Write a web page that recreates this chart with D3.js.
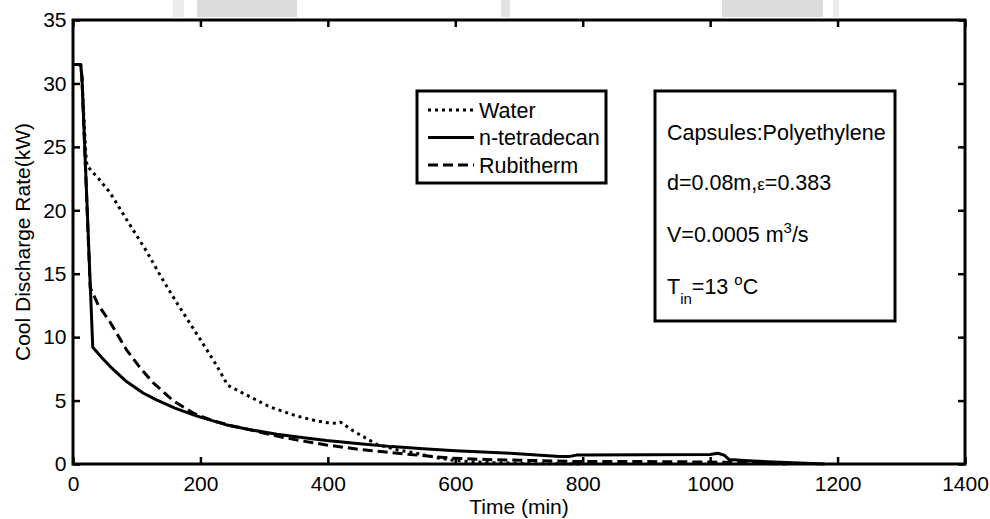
<!DOCTYPE html>
<html>
<head>
<meta charset="utf-8">
<script src="https://cdn.jsdelivr.net/npm/d3@7"></script>
<style>
  body { margin: 0; background: #fff; }
  text { font-family: "Liberation Sans", Arial, sans-serif; fill: #000; }
</style>
</head>
<body>
<script>
// discharge curves (time in min, rate in kW)
var waterT = [0, 12, 14, 20, 22, 40, 58, 85, 115, 140, 163, 200, 225, 243, 270, 309, 350, 382, 400, 414, 420, 440, 477, 510, 539, 570, 592, 620, 660, 720, 800];
var waterV = [31.5, 31.5, 30.5, 24.5, 23.5, 22.5, 21.4, 19.2, 16.8, 14.6, 12.7, 9.8, 7.8, 6.2, 5.5, 4.5, 3.8, 3.4, 3.25, 3.2, 3.3, 2.6, 1.55, 1.1, 0.85, 0.5, 0.32, 0.2, 0.1, 0.03, 0];

var tetraT = [0, 12, 14, 31, 45, 58, 84, 110, 131, 160, 189, 200, 240, 278, 320, 356, 398, 450, 500, 550, 600, 686, 764, 780, 790, 900, 1000, 1012, 1022, 1030, 1060, 1100, 1150, 1180];
var tetraV = [31.5, 31.5, 30.5, 9.2, 8.4, 7.7, 6.5, 5.6, 5.05, 4.4, 3.87, 3.7, 3.1, 2.7, 2.35, 2.1, 1.85, 1.6, 1.37, 1.2, 1.05, 0.85, 0.6, 0.6, 0.7, 0.72, 0.75, 0.85, 0.7, 0.35, 0.25, 0.15, 0.05, 0];

var rubiT = [0, 12, 14, 27, 40, 58, 84, 105, 126, 157, 189, 220, 250, 278, 320, 356, 398, 450, 487, 540, 592, 650, 700, 785, 850, 950, 1050, 1100, 1120];
var rubiV = [31.5, 31.5, 30.5, 13.9, 12.5, 11.2, 9.0, 7.6, 6.4, 5.0, 4.0, 3.4, 3.0, 2.7, 2.2, 1.85, 1.5, 1.15, 0.97, 0.7, 0.47, 0.35, 0.3, 0.2, 0.2, 0.18, 0.12, 0.02, 0];

var seriesNames = ["Water", "n-tetradecan", "Rubitherm"];
var xTicks = [0, 200, 400, 600, 800, 1000, 1200, 1400];
var yTicks = [0, 5, 10, 15, 20, 25, 30, 35];

var width = 990, height = 519;
var margin = {top: 20, right: 25, bottom: 55, left: 73};

var series = [
  {name: seriesNames[0], dash: "3,4", values: waterT.map((t, i) => [t, waterV[i]])},
  {name: seriesNames[1], dash: null, values: tetraT.map((t, i) => [t, tetraV[i]])},
  {name: seriesNames[2], dash: "10,5", values: rubiT.map((t, i) => [t, rubiV[i]])}
];

var svg = d3.select("body").append("svg")
    .attr("width", width)
    .attr("height", height);

// grey watermark blocks along the top edge of the scanned page
var grey = [[173, 11, "#ececec"], [197, 100, "#dcdcdc"], [501, 9, "#e2e2e2"], [722, 101, "#dcdcdc"], [833, 6, "#ececec"]];
svg.append("g").selectAll("rect")
  .data(grey)
  .join("rect")
    .attr("x", d => d[0])
    .attr("y", 0)
    .attr("width", d => d[1])
    .attr("height", 17)
    .attr("fill", d => d[2]);

var x = d3.scaleLinear()
    .domain([0, 1400])
    .range([margin.left, width - margin.right]);

var y = d3.scaleLinear()
    .domain([0, 35])
    .range([height - margin.bottom, margin.top]);

var line = d3.line()
    .x(d => x(d[0]))
    .y(d => y(d[1]));

svg.append("g")
  .selectAll("path")
  .data(series)
  .join("path")
    .attr("d", d => line(d.values))
    .attr("fill", "none")
    .attr("stroke", "#000")
    .attr("stroke-width", 3)
    .attr("stroke-linejoin", "round")
    .attr("stroke-dasharray", d => d.dash);

function styleAxis(g) {
  g.select(".domain").remove();
  g.selectAll(".tick line").attr("stroke-width", 2.5);
  g.selectAll("text").style("font-size", "21px")
    .style("font-family", "'Liberation Sans', Arial, sans-serif");
}

svg.append("g")
    .attr("transform", `translate(0,${y(0)})`)
    .call(d3.axisBottom(x).tickValues(xTicks).tickFormat(d3.format("d"))
      .tickSizeInner(-7).tickSizeOuter(0).tickPadding(12))
    .call(styleAxis);

svg.append("g")
    .attr("transform", `translate(0,${y(35)})`)
    .call(d3.axisTop(x).tickValues(xTicks).tickSizeInner(-7).tickSizeOuter(0).tickFormat(""))
    .call(styleAxis);

svg.append("g")
    .attr("transform", `translate(${x(0)},0)`)
    .call(d3.axisLeft(y).tickValues(yTicks).tickFormat(d3.format("d"))
      .tickSizeInner(-7).tickSizeOuter(0).tickPadding(6.5))
    .call(styleAxis);

svg.append("g")
    .attr("transform", `translate(${x(1400)},0)`)
    .call(d3.axisRight(y).tickValues(yTicks).tickSizeInner(-7).tickSizeOuter(0).tickFormat(""))
    .call(styleAxis);

// axes box
svg.append("rect")
    .attr("x", x(0))
    .attr("y", y(35))
    .attr("width", x(1400) - x(0))
    .attr("height", y(0) - y(35))
    .attr("fill", "none")
    .attr("stroke", "#000")
    .attr("stroke-width", 3);

svg.append("text")
    .attr("x", (x(0) + x(1400)) / 2)
    .attr("y", 514)
    .attr("text-anchor", "middle")
    .style("font-size", "21px")
    .text("Time (min)");

svg.append("text")
    .attr("transform", `translate(29.5,${(y(0) + y(35)) / 2}) rotate(-90)`)
    .attr("text-anchor", "middle")
    .style("font-size", "21px")
    .text("Cool Discharge Rate(kW)");

// legend
var legend = svg.append("g");
legend.append("rect")
    .attr("x", 417).attr("y", 91)
    .attr("width", 189).attr("height", 92)
    .attr("fill", "#fff")
    .attr("stroke", "#000")
    .attr("stroke-width", 3);

var item = legend.selectAll("g.item")
  .data(series)
  .join("g")
    .attr("class", "item")
    .attr("transform", (d, i) => `translate(428,${110 + i * 27.5})`);

item.append("line")
    .attr("x1", 0).attr("x2", 46)
    .attr("stroke", "#000")
    .attr("stroke-width", 3)
    .attr("stroke-dasharray", d => d.dash);

item.append("text")
    .attr("x", 51)
    .attr("y", 7.5)
    .style("font-size", "21.5px")
    .text(d => d.name);

// parameter box
var info = svg.append("g");
info.append("rect")
    .attr("x", 655).attr("y", 91)
    .attr("width", 240).attr("height", 230)
    .attr("fill", "#fff")
    .attr("stroke", "#000")
    .attr("stroke-width", 3);

var tx = 667;
info.append("text").attr("x", tx).attr("y", 139.5).style("font-size", "21.5px")
    .text("Capsules:Polyethylene");

var t2 = info.append("text").attr("x", tx).attr("y", 189.5).style("font-size", "21.5px");
t2.append("tspan").text("d=0.08m,");
t2.append("tspan").style("font-size", "17px").text("ε");
t2.append("tspan").text("=0.383");

var t3 = info.append("text").attr("x", tx).attr("y", 241.7).style("font-size", "21.5px");
t3.append("tspan").text("V=0.0005 m");
t3.append("tspan").attr("dy", -9).style("font-size", "15px").text("3");
t3.append("tspan").attr("dy", 9).text("/s");

var t4 = info.append("text").attr("x", tx).attr("y", 294.3).style("font-size", "21.5px");
t4.append("tspan").text("T");
t4.append("tspan").attr("dy", 10).style("font-size", "15px").text("in");
t4.append("tspan").attr("dy", -10).text("=13 ");
t4.append("tspan").attr("dy", -9).style("font-size", "15px").text("o");
t4.append("tspan").attr("dy", 9).text("C");
</script>
</body>
</html>
